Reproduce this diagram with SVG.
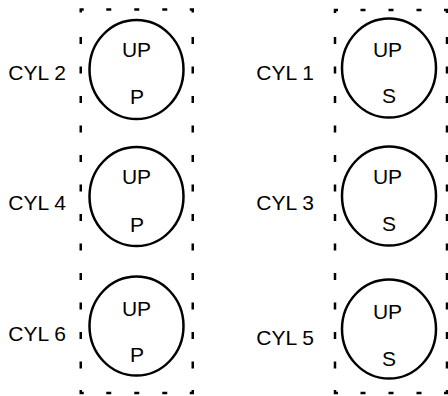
<svg xmlns="http://www.w3.org/2000/svg" width="448" height="396" viewBox="0 0 448 396">
<style>
  .bank { fill: none; stroke: #000; stroke-width: 2.5; }
  .hd { stroke-dasharray: 5 23; }
  .vd { stroke-dasharray: 7 22.5; }
  .corner { fill: none; stroke: #000; stroke-width: 2.5; stroke-linejoin: miter; }
  .cyl { fill: #fff; stroke: #000; stroke-width: 2.5; }
  .t { font-family: "Liberation Sans", Arial, sans-serif; font-size: 21px; fill: #000; }
  .c { text-anchor: middle; }
</style>
<rect width="448" height="396" fill="#fff"/>
<g id="bank-left">
  <line class="bank hd" x1="106.25" y1="9.5" x2="167.25" y2="9.5"/>
  <line class="bank hd" x1="106.25" y1="393" x2="167.25" y2="393"/>
  <line class="bank vd" x1="80.75" y1="37" x2="80.75" y2="368.5"/>
  <line class="bank vd" x1="192.75" y1="37" x2="192.75" y2="368.5"/>
  <path class="corner" d="M80.75,12.5 V9.5 H83.75 M189.75,9.5 H192.75 V12.5 M80.75,390 V393 H83.75 M189.75,393 H192.75 V390"/>
</g>
<g id="bank-right">
  <line class="bank hd" x1="360.5" y1="10" x2="421.5" y2="10"/>
  <line class="bank hd" x1="360.5" y1="393" x2="421.5" y2="393"/>
  <line class="bank vd" x1="335" y1="37" x2="335" y2="368.5"/>
  <line class="bank vd" x1="447" y1="37" x2="447" y2="368.5"/>
  <path class="corner" d="M335,13 V10 H338 M444,10 H447 V13 M335,390 V393 H338 M444,393 H447 V390"/>
</g>
<g id="connectors"/>
<g id="cyl-2">
  <ellipse class="cyl" cx="136.5" cy="69.5" rx="47" ry="49.5"/>
  <text class="t c" x="136.5" y="57.3">UP</text>
  <text class="t c" x="137" y="104">P</text>
  <text class="t" x="8.3" y="80">CYL 2</text>
</g>
<g id="cyl-4">
  <ellipse class="cyl" cx="136.5" cy="196.5" rx="47" ry="49.5"/>
  <text class="t c" x="136.5" y="184">UP</text>
  <text class="t c" x="137" y="231.5">P</text>
  <text class="t" x="8.3" y="210">CYL 4</text>
</g>
<g id="cyl-6">
  <ellipse class="cyl" cx="136.5" cy="326" rx="47" ry="49.5"/>
  <text class="t c" x="136.5" y="315.5">UP</text>
  <text class="t c" x="137" y="362">P</text>
  <text class="t" x="8.3" y="341">CYL 6</text>
</g>
<g id="cyl-1">
  <ellipse class="cyl" cx="389" cy="68" rx="47" ry="49.5"/>
  <text class="t c" x="387.5" y="56.7">UP</text>
  <text class="t c" x="389" y="103.3">S</text>
  <text class="t" x="256.3" y="80">CYL 1</text>
</g>
<g id="cyl-3">
  <ellipse class="cyl" cx="389" cy="196" rx="47" ry="49.5"/>
  <text class="t c" x="387.5" y="184">UP</text>
  <text class="t c" x="389" y="231">S</text>
  <text class="t" x="256.3" y="210">CYL 3</text>
</g>
<g id="cyl-5">
  <ellipse class="cyl" cx="389" cy="329" rx="47" ry="49.5"/>
  <text class="t c" x="387.5" y="319.3">UP</text>
  <text class="t c" x="389" y="366.3">S</text>
  <text class="t" x="256.3" y="345">CYL 5</text>
</g>
</svg>
